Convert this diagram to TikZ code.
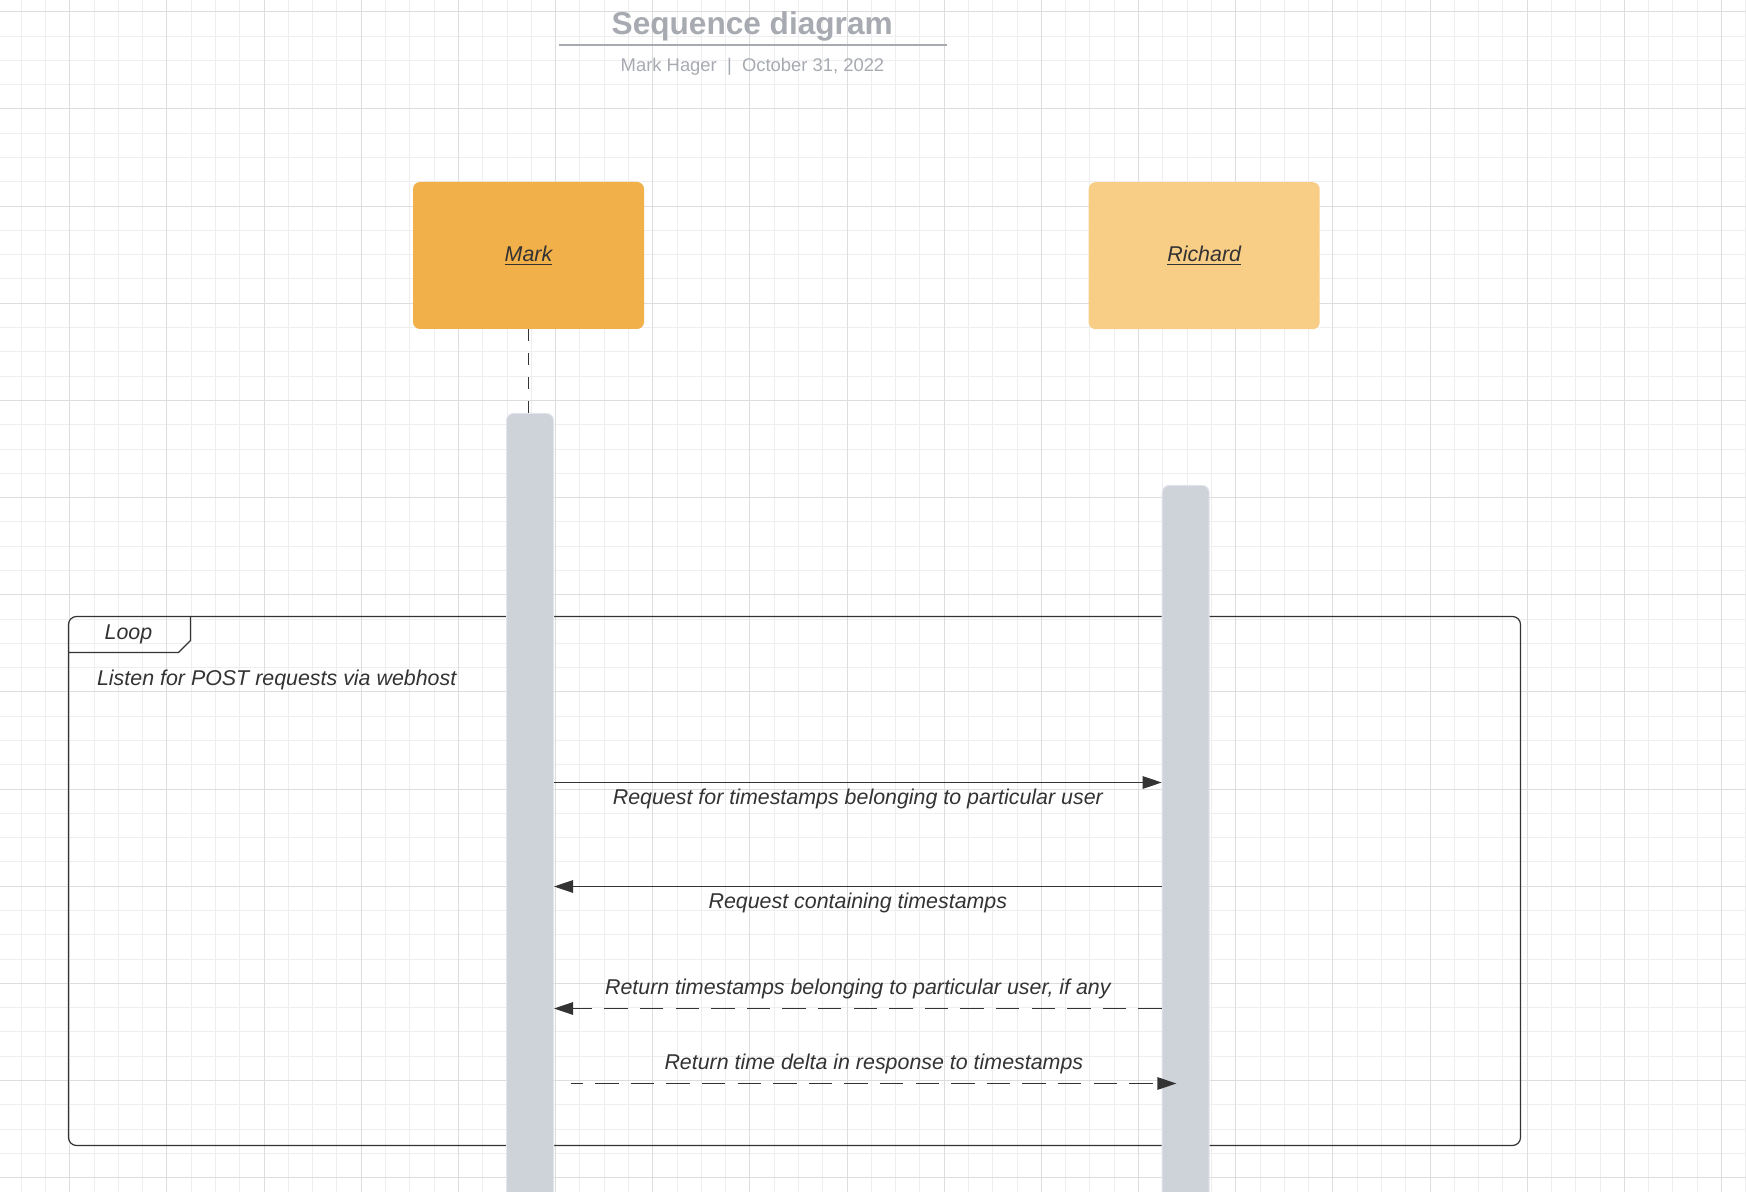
\documentclass[tikz,border=0pt]{standalone}
\usepackage{fontspec}
\setmainfont{Liberation Sans}
\usetikzlibrary{arrows.meta}

\definecolor{markfill}{HTML}{F2B04A}
\definecolor{richfill}{HTML}{F8CD85}
\definecolor{barfill}{HTML}{CED2D9}
\definecolor{barline}{HTML}{E2E5EA}
\definecolor{ink}{HTML}{333333}
\definecolor{titlegray}{HTML}{A7AAB1}
\definecolor{gridminor}{HTML}{EEEEEE}
\definecolor{gridmajor}{HTML}{DDDDDD}

\begin{document}
\begin{tikzpicture}[x=0.5pt, y=-0.5pt,
    actor/.style={rectangle, rounded corners=3.5pt, minimum width=115.5pt, minimum height=73.5pt, inner sep=0pt, font=\fontsize{10.7}{13}\selectfont\itshape, text=ink},
    activation/.style={rectangle, rounded corners=3.5pt, fill=barfill, draw=barline, line width=0.5pt, minimum width=23.5pt, minimum height=420pt, anchor=north, inner sep=0pt},
    lifeline/.style={draw=ink, line width=0.65pt, dash pattern=on 6pt off 6pt},
    msg/.style={draw=ink, line width=0.65pt, -{Triangle[length=9.5pt, width=6.25pt]}},
    reply/.style={msg, dash pattern=on 11.7pt off 6.1pt},
    msglabel/.style={font=\fontsize{10.7}{13}\selectfont\itshape, text=ink, inner sep=0pt, anchor=base},
    loopline/.style={draw=ink, line width=0.6pt}]
    \clip (0,0) rectangle (1746,1192);
    \fill[white] (0,0) rectangle (1746,1192);

    % grid
    \foreach \i in {0,...,71} \draw[gridminor, line width=0.5pt] ({round(20.72+24.29*\i)+0.5},0) -- ++(0,1192);
    \foreach \j in {0,...,48} \draw[gridminor, line width=0.5pt] (0,{round(11.3+24.29*\j)+0.5}) -- ++(1746,0);
    \foreach \i in {0,...,17} \draw[gridmajor, line width=0.5pt] ({round(69.3+97.16*\i)+0.5},0) -- ++(0,1192);
    \foreach \j in {0,...,12} \draw[gridmajor, line width=0.5pt] (0,{round(11.3+97.16*\j)+0.5}) -- ++(1746,0);

    % title block
    \node[font=\fontsize{15.8}{19}\selectfont\bfseries, text=titlegray, anchor=base] (title) at (752.2,35) {Sequence diagram};
    \draw[titlegray, line width=1pt] (559,45) -- (947,45);
    \node[font=\fontsize{9.2}{11}\selectfont, text=titlegray, anchor=base] (byline) at (752.5,71.7) {Mark Hager~~|~~October 31, 2022};

    % actors
    \node[actor, fill=markfill] (mark) at (528.5,255.5) {\underline{Mark}};
    \node[actor, fill=richfill] (richard) at (1204.2,255.7) {\underline{Richard}};

    % loop frame
    \draw[loopline, rounded corners=4pt] (68.5,616.5) rectangle (1520.5,1145.5);
    \draw[loopline] (68.5,652.5) -- (178.5,652.5) -- (190.5,640.5) -- (190.5,616.5);
    \node[msglabel] (looptag) at (128.5,639.3) {Loop};
    \node[msglabel, anchor=base west] (guard) at (96.7,685) {Listen for POST requests via webhost};

    % activation bars
    \node[activation] (markbar) at (530,413) {};
    \node[activation] (richbar) at (1185.7,485) {};
    \draw[lifeline] (mark.south) -- (mark.south |- markbar.north);

    % messages
    \draw[msg] (markbar.east |- 0,782.5) -- node[msglabel, yshift=-11pt] {Request for timestamps belonging to particular user} (richbar.west |- 0,782.5);
    \draw[msg] (richbar.west |- 0,886.5) -- node[msglabel, yshift=-11pt] {Request containing timestamps} (markbar.east |- 0,886.5);
    \draw[reply] (richbar.west |- 0,1008.5) -- node[msglabel, yshift=7.25pt] {Return timestamps belonging to particular user, if any} (markbar.east |- 0,1008.5);
    \draw[reply, dash phase=5.6pt, shorten <=8.35pt, shorten >=-7.35pt] (markbar.east |- 0,1083.5) -- node[msglabel, yshift=7pt, xshift=8pt] {Return time delta in response to timestamps} (richbar.west |- 0,1083.5);
\end{tikzpicture}
\end{document}
